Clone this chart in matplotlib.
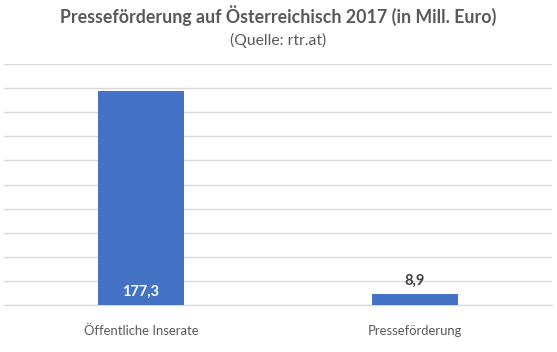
import matplotlib
matplotlib.use("Agg")
import matplotlib.pyplot as plt
import numpy as np

categories = ["Öffentliche Inserate", "Presseförderung"]
values = [177.3, 8.9]
value_labels = ["177,3", "8,9"]

plt.rcParams['font.family'] = ['Lato', 'DejaVu Sans']

fig = plt.figure(figsize=(5.57, 3.52), dpi=100)
ax = fig.add_axes([4 / 557, 0.1335, 548 / 557, 0.6845])

x = np.arange(len(categories))
bars = ax.bar(x, values, width=0.315, color="#4472C4", zorder=3)

ax.set_xlim(-0.5, 1.5)
ax.set_ylim(0, 200)
ax.set_yticks(np.arange(0, 201, 20))
ax.yaxis.grid(True, color="#d9d9d9", linewidth=1.0, zorder=0)
ax.tick_params(axis='y', left=False, labelleft=False)
ax.tick_params(axis='x', bottom=False, labelsize=9.4, labelcolor="#595959", pad=11)
ax.set_xticks(x)
ax.set_xticklabels(categories)
for s in ["top", "right", "left"]:
    ax.spines[s].set_visible(False)
ax.spines["bottom"].set_color("#d9d9d9")

# value labels
ax.text(x[0], 5.5, value_labels[0], ha="center", va="bottom", color="white",
        fontsize=10.5, fontweight="bold", zorder=4)
ax.text(x[1], values[1] + 5, value_labels[1], ha="center", va="bottom",
        color="#404040", fontsize=10.5, fontweight="bold", zorder=4)

fig.text(0.5, 0.957, "Presseförderung auf Österreichisch 2017 (in Mill. Euro)",
         ha="center", va="center", fontsize=12.75, fontweight="bold", color="#595959")
fig.text(0.5, 0.886, "(Quelle: rtr.at)", ha="center", va="center",
         fontsize=11.3, color="#595959")

fig.savefig("out.png", dpi=100, facecolor="white")
